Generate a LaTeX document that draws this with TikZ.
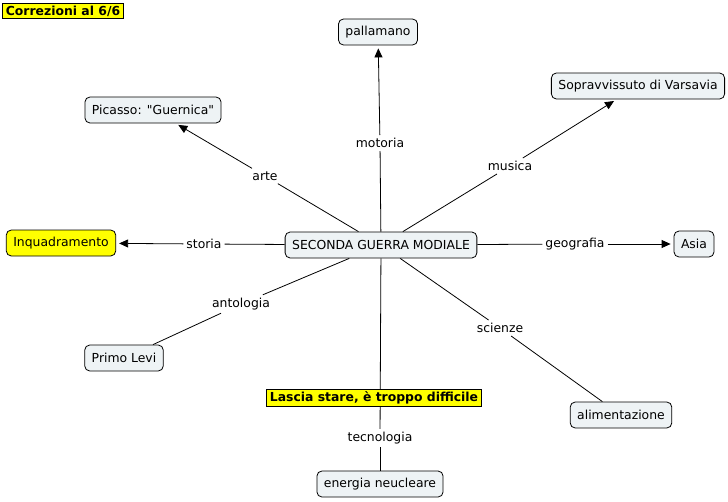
\documentclass[tikz,border=0pt]{standalone}
\usepackage{fontspec}
\setmainfont{DejaVu Sans}
\usepackage{tikz}
\usetikzlibrary{arrows.meta}
\definecolor{cmapfill}{HTML}{EEF3F5}
\definecolor{noteyellow}{HTML}{FFFF00}
\tikzset{>={Triangle[length=9pt,width=8pt]}}
\newcommand{\straightdq}{\XeTeXglyph\XeTeXcharglyph"22\relax}

\begin{document}
\begin{tikzpicture}[x=1pt,y=-1pt,
    concept/.style={draw, line width=0.8pt, rounded corners=5pt, fill=cmapfill, inner xsep=7pt, minimum height=26pt, font=\fontsize{12.4}{14}\selectfont},
    hot/.style={concept, fill=noteyellow},
    note/.style={draw, line width=0.8pt, fill=noteyellow, inner xsep=3pt, inner ysep=2pt, font=\fontsize{12.4}{14}\selectfont\bfseries},
    linklabel/.style={fill=white, inner sep=3pt, font=\fontsize{12.4}{14}\selectfont},
    link/.style={draw, line width=0.8pt},
    linkto/.style={draw, line width=0.8pt, ->, shorten >=3pt}]

  \useasboundingbox (0,0) rectangle (728,501);

  % Nodes
  \node[concept] (guerra)  at (381,245) {SECONDA GUERRA MODIALE};
  \node[concept] (palla)   at (378,32)  {pallamano};
  \node[concept] (varsavia) at (638,86) {Sopravvissuto di Varsavia};
  \node[concept] (picasso) at (153,110) {Picasso: \straightdq Guernica\straightdq};
  \node[hot]     (inquad)  at (61,243)  {Inquadramento};
  \node[concept] (asia)    at (694,244) {Asia};
  \node[concept] (levi)    at (124,358) {Primo Levi};
  \node[concept] (alim)    at (621,415) {alimentazione};
  \node[concept] (energia) at (380,484) {energia neucleare};

  % Link labels
  \node[linklabel] (motoria)   at (380,143) {motoria};
  \node[linklabel] (musica)    at (510,166) {musica};
  \node[linklabel] (arte)      at (265,176) {arte};
  \node[linklabel] (storia)    at (204,244) {storia};
  \node[linklabel] (geografia) at (575,244) {geografia};
  \node[linklabel] (antologia) at (241,304) {antologia};
  \node[linklabel] (scienze)   at (500,328) {scienze};
  \node[linklabel] (tecno)     at (380,438) {tecnologia};

  % Edges
  \draw[link] (guerra) -- (motoria);   \draw[linkto] (motoria) -- (palla);
  \draw[link] (guerra) -- (musica);    \draw[linkto] (musica) -- (varsavia);
  \draw[link] (guerra) -- (arte);      \draw[linkto] (arte) -- (picasso);
  \draw[link] (guerra) -- (storia);    \draw[linkto] (storia) -- (inquad);
  \draw[link] (guerra) -- (geografia); \draw[linkto] (geografia) -- (asia);
  \draw[link] (guerra) -- (antologia); \draw[link] (antologia) -- (levi);
  \draw[link] (guerra) -- (scienze);   \draw[link] (scienze) -- (alim);
  \draw[link] (guerra) -- (tecno);     \draw[link] (tecno) -- (energia);

  % Notes
  \node[note] (corr)   at (63,11)   {Correzioni al 6/6};
  \node[note] (lascia) at (374,398) {Lascia stare, è troppo difficile};
\end{tikzpicture}
\end{document}
